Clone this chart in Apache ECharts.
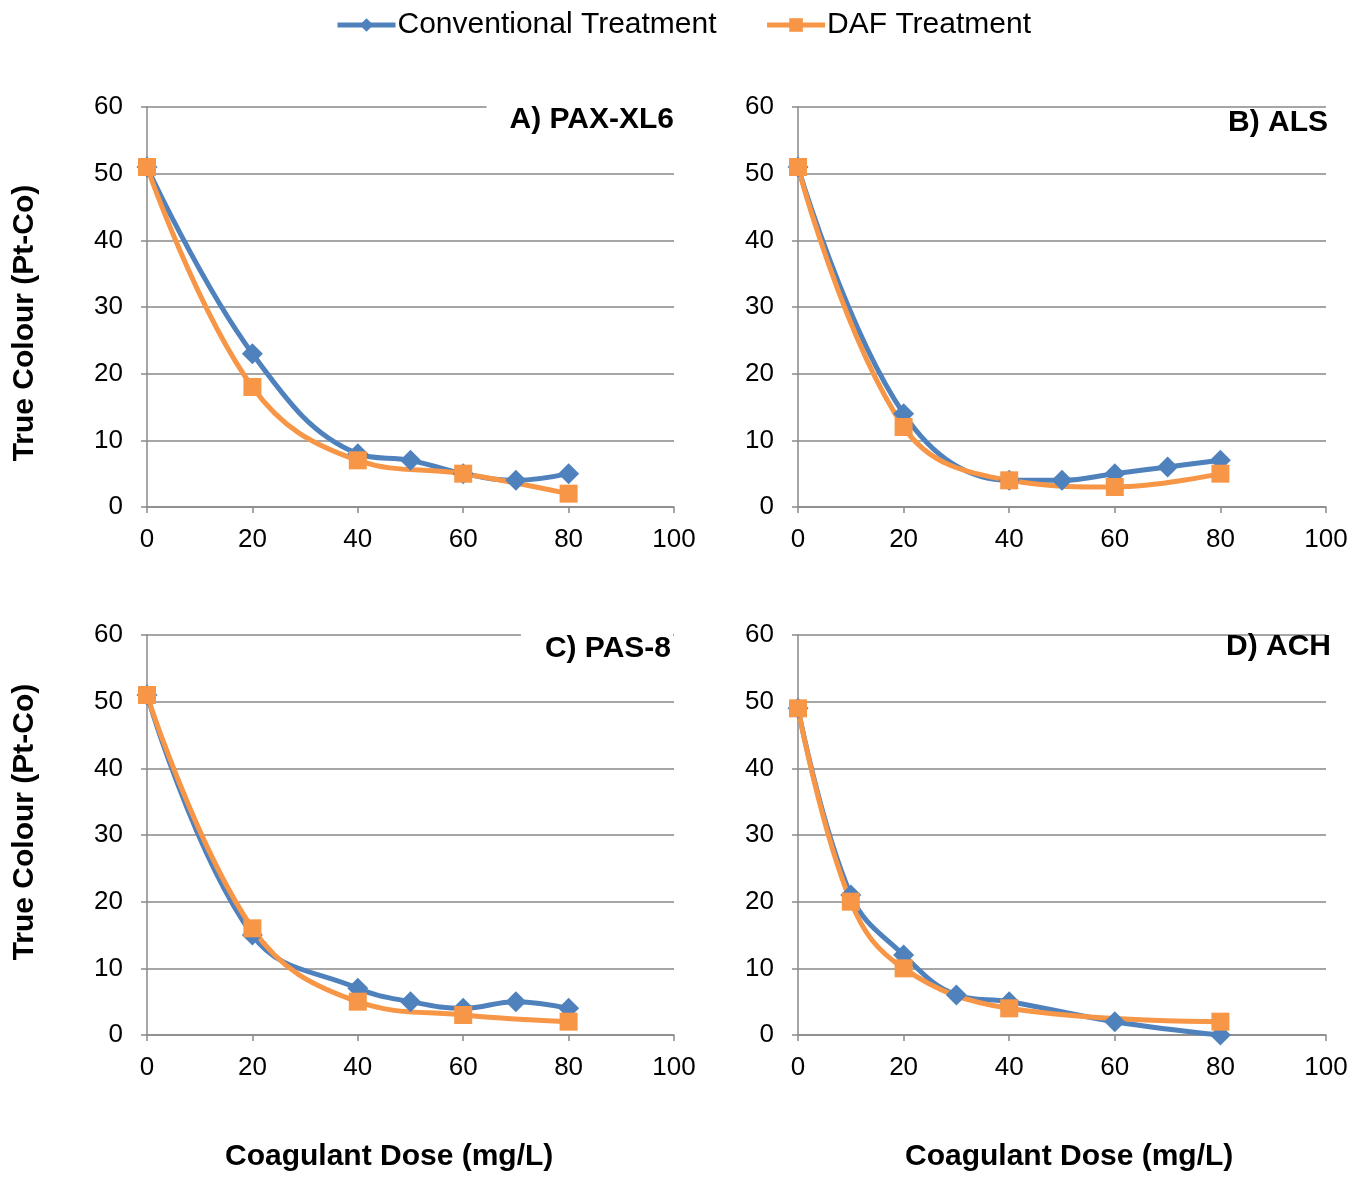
<!DOCTYPE html>
<html>
<head>
<meta charset="utf-8">
<script src="https://cdn.jsdelivr.net/npm/echarts@6/dist/echarts.min.js"></script>
<style>
  html, body { margin: 0; padding: 0; background: #fff; }
  #main { width: 1366px; height: 1177px; }
</style>
</head>
<body>
<div id="main"></div>
<script>
// doses (mg/L)
var convDose = [0, 20, 40, 50, 60, 70, 80];
var dafDose = [0, 20, 40, 60, 80];
var convDoseD = [0, 10, 20, 30, 40, 60, 80];
var dafDoseD = [0, 10, 20, 40, 80];

// true colour (Pt-Co)
var convA = [51, 23, 8, 7, 5, 4, 5];
var dafA = [51, 18, 7, 5, 2];
var convB = [51, 14, 4, 4, 5, 6, 7];
var dafB = [51, 12, 4, 3, 5];
var convC = [51, 15, 7, 5, 4, 5, 4];
var dafC = [51, 16, 5, 3, 2];
var convD = [49, 21, 12, 6, 5, 2, 0];
var dafD = [49, 20, 10, 4, 2];

var panelTitles = ['A) PAX-XL6', 'B) ALS', 'C) PAS-8', 'D) ACH'];
var seriesNames = ['Conventional Treatment', 'DAF Treatment'];

var FONT = '"Liberation Sans", Arial, sans-serif';
var GRAY = '#898989';
var BLUE = '#4F81BD';
var ORANGE = '#F79646';

function pairs(xs, ys) {
    var out = [];
    for (var i = 0; i < xs.length; i++) {
        out.push([xs[i], ys[i]]);
    }
    return out;
}

var panels = [
    {conv: pairs(convDose, convA), daf: pairs(dafDose, dafA)},
    {conv: pairs(convDose, convB), daf: pairs(dafDose, dafB)},
    {conv: pairs(convDose, convC), daf: pairs(dafDose, dafC)},
    {conv: pairs(convDoseD, convD), daf: pairs(dafDoseD, dafD)}
];

var grids = [
    {left: 147, top: 107, width: 527, height: 400},
    {left: 798, top: 107, width: 528, height: 400},
    {left: 147, top: 635, width: 527, height: 400},
    {left: 798, top: 635, width: 528, height: 400}
];

var xAxes = [], yAxes = [], series = [];
for (var i = 0; i < 4; i++) {
    xAxes.push({
        gridIndex: i, type: 'value', min: 0, max: 100, interval: 20,
        axisLine: {show: true, lineStyle: {color: GRAY, width: 1.5}},
        axisTick: {show: true, length: 6, lineStyle: {color: GRAY, width: 1.5}},
        splitLine: {show: false},
        axisLabel: {fontSize: 26, color: '#000', fontFamily: FONT, margin: 20}
    });
    yAxes.push({
        gridIndex: i, type: 'value', min: 0, max: 60, interval: 10,
        axisLine: {show: true, lineStyle: {color: GRAY, width: 1.5}},
        axisTick: {show: true, length: 6, lineStyle: {color: GRAY, width: 1.5}},
        splitLine: {show: true, lineStyle: {color: GRAY, width: 1.5}},
        axisLabel: {fontSize: 26, color: '#000', fontFamily: FONT, margin: 24}
    });
    series.push({
        name: seriesNames[0], type: 'line', xAxisIndex: i, yAxisIndex: i,
        data: panels[i].conv, smooth: 0.4,
        symbol: 'diamond', symbolSize: 21,
        lineStyle: {color: BLUE, width: 5},
        itemStyle: {color: BLUE}
    });
    series.push({
        name: seriesNames[1], type: 'line', xAxisIndex: i, yAxisIndex: i,
        data: panels[i].daf, smooth: 0.4,
        symbol: 'rect', symbolSize: 18,
        lineStyle: {color: ORANGE, width: 5},
        itemStyle: {color: ORANGE}
    });
}

var titleStyle = {fontSize: 30, fontWeight: 'bold', color: '#000', fontFamily: FONT};
var titles = [
    {text: panelTitles[0], right: 690, top: 95, backgroundColor: '#fff', padding: [10, 2, 8, 23], textStyle: titleStyle},
    {text: panelTitles[1], right: 38, top: 108, padding: 0, textStyle: titleStyle},
    {text: panelTitles[2], right: 693, top: 624, backgroundColor: '#fff', padding: [10, 2, 8, 24], textStyle: titleStyle},
    {text: panelTitles[3], right: 35, top: 632, padding: 0, textStyle: titleStyle}
];

var axisTitleStyle = {fontSize: 30, fontWeight: 'bold', fill: '#000', fontFamily: FONT};
var graphics = [
    {type: 'text', left: 225, top: 1142, style: Object.assign({text: 'Coagulant Dose (mg/L)'}, axisTitleStyle)},
    {type: 'text', left: 905, top: 1142, style: Object.assign({text: 'Coagulant Dose (mg/L)'}, axisTitleStyle)},
    {type: 'text', x: 25, y: 323, rotation: Math.PI / 2,
        style: Object.assign({text: 'True Colour (Pt-Co)', align: 'center', verticalAlign: 'middle'}, axisTitleStyle)},
    {type: 'text', x: 25, y: 822, rotation: Math.PI / 2,
        style: Object.assign({text: 'True Colour (Pt-Co)', align: 'center', verticalAlign: 'middle'}, axisTitleStyle)}
];

var myChart = echarts.init(document.getElementById('main'));
option = {
    animation: false,
    backgroundColor: '#fff',
    title: titles,
    legend: {
        top: 5, left: 'center',
        data: seriesNames,
        itemWidth: 58, itemHeight: 17, itemGap: 48,
        lineStyle: {width: 5},
        textStyle: {fontSize: 30, color: '#000', fontFamily: FONT, padding: [0, 0, 0, -3]}
    },
    grid: grids,
    xAxis: xAxes,
    yAxis: yAxes,
    series: series,
    graphic: graphics
};
myChart.setOption(option);
</script>
</body>
</html>
